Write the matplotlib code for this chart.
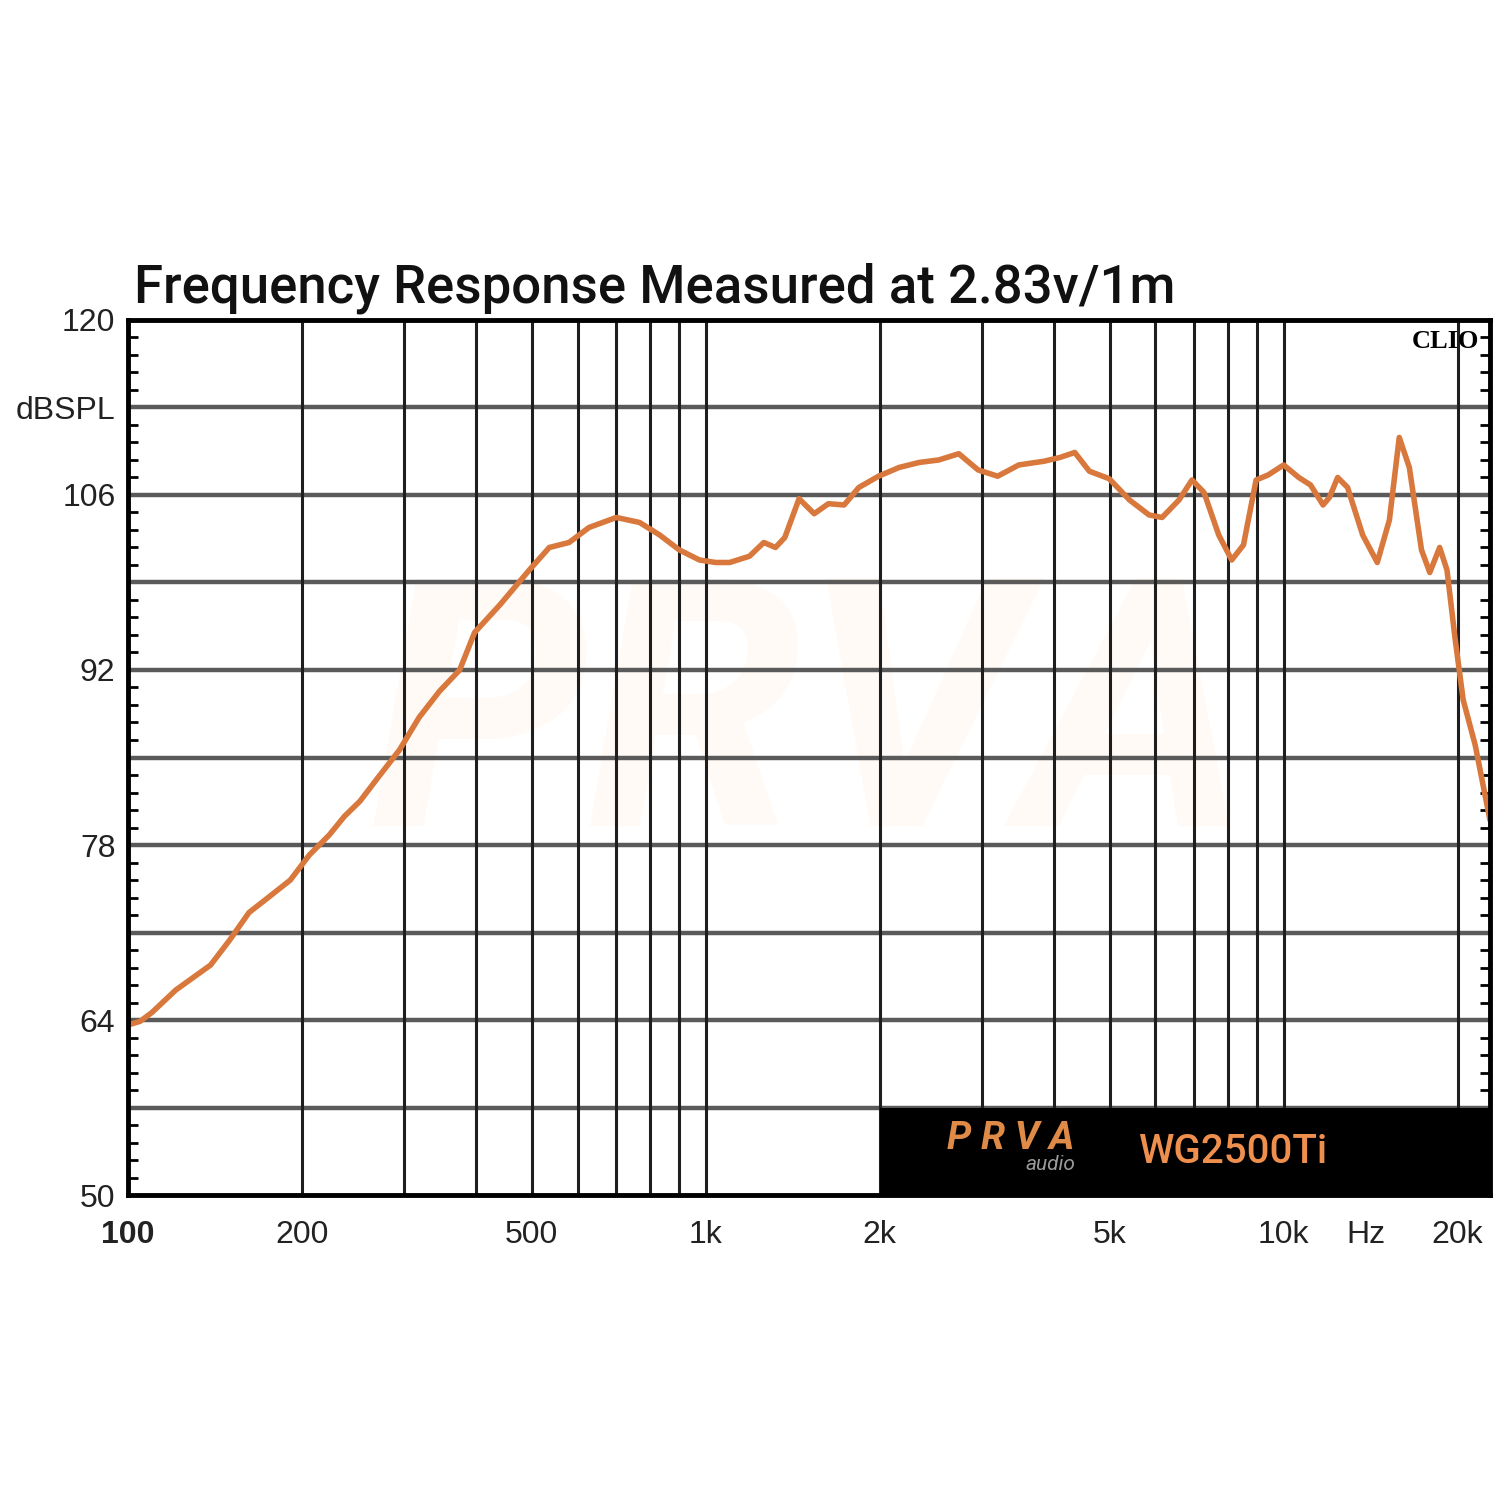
import matplotlib
matplotlib.use("Agg")
import matplotlib.pyplot as plt
from matplotlib.patches import Rectangle
from matplotlib.ticker import FixedLocator, NullFormatter

# frequency response (Hz, dB SPL)
freq_hz = [100, 105, 110, 121, 139, 150, 162, 176, 191, 206, 223, 237, 252, 273,
           295, 319, 346, 375, 398, 440, 495, 536, 580, 628, 700, 768, 832, 900,
           975, 1040, 1100, 1190, 1260, 1320, 1370, 1450, 1540, 1630, 1735, 1840,
           1990, 2160, 2340, 2530, 2740, 2960, 3200, 3480, 3850, 4100, 4350, 4610,
           4990, 5410, 5850, 6160, 6590, 6940, 7280, 7720, 8130, 8520, 8960, 9400,
           10000, 10620, 11130, 11700, 12000, 12400, 12900, 13700, 14520, 15240,
           15850, 16500, 17320, 17900, 18620, 19170, 19800, 20450, 21450, 22750]
spl_db = [63.6, 63.9, 64.6, 66.4, 68.4, 70.4, 72.6, 73.9, 75.2, 77.2, 78.8, 80.3,
          81.5, 83.6, 85.6, 88.2, 90.3, 92.0, 95.0, 97.2, 100.0, 101.8, 102.2,
          103.4, 104.2, 103.8, 102.8, 101.6, 100.8, 100.6, 100.6, 101.1, 102.2,
          101.8, 102.6, 105.7, 104.5, 105.3, 105.2, 106.6, 107.5, 108.2, 108.6,
          108.8, 109.3, 108.0, 107.5, 108.4, 108.7, 109.0, 109.4, 107.9, 107.3,
          105.6, 104.4, 104.2, 105.6, 107.2, 106.2, 102.8, 100.8, 102.0, 107.2,
          107.6, 108.4, 107.4, 106.8, 105.2, 105.8, 107.4, 106.6, 102.8, 100.6,
          104.0, 110.6, 108.2, 101.6, 99.8, 101.8, 100.0, 94.5, 89.6, 86.0, 80.0]

grid_freqs = [200, 300, 400, 500, 600, 700, 800, 900, 1000, 2000, 3000, 4000,
              5000, 6000, 7000, 8000, 9000, 10000, 20000]
y_ticks = [50, 57, 64, 71, 78, 85, 92, 99, 106, 113, 120]
y_labels = ["50", "", "64", "", "78", "", "92", "", "106", "dBSPL", "120"]
x_ticks = [100, 200, 500, 1000, 2000, 5000, 10000, 13900, 20000]
x_labels = ["100", "200", "500", "1k", "2k", "5k", "10k", "Hz", "20k"]

fig = plt.figure(figsize=(15, 15), dpi=100)
ax = fig.add_axes([0.0853, 0.2033, 0.908, 0.5834])
ax.set_xscale("log")
ax.set_xlim(100, 22750)
ax.set_ylim(50, 120)

for y in y_ticks[1:-1]:
    ax.axhline(y, color="#5a5a5a", lw=3.2, zorder=1)
for f in grid_freqs:
    ax.axvline(f, color="#1e1e1e", lw=2.2, zorder=1)

# faint watermark
ax.text(0.5, 0.53, "PRVA", transform=ax.transAxes, ha="center", va="center",
        fontsize=250, fontstyle="italic", fontweight="bold", color="#fffaf5",
        family="Roboto", zorder=0)

ax.plot(freq_hz, spl_db, color="#d9783c", lw=4, zorder=3,
        solid_joinstyle="round", solid_capstyle="round")

ax.add_patch(Rectangle((2000, 50), 22750 - 2000, 7, facecolor="black",
                       edgecolor="none", zorder=4))

ax.set_yticks(y_ticks)
ax.set_yticklabels(y_labels)
ax.yaxis.set_minor_locator(FixedLocator([50 + 1.4 * i for i in range(51)]))
ax.yaxis.set_minor_formatter(NullFormatter())
ax.tick_params(axis="y", which="major", length=0, pad=9, labelsize=23,
               labelcolor="#222222")
ax.tick_params(axis="y", which="minor", direction="in", length=7, width=2,
               left=True, right=True, color="black")
ax.set_xticks(x_ticks)
ax.set_xticklabels(x_labels)
ax.xaxis.set_minor_locator(FixedLocator([]))
ax.tick_params(axis="x", which="major", length=0, pad=18, labelsize=23,
               labelcolor="#222222")
for lab in ax.get_xticklabels() + ax.get_yticklabels():
    lab.set_family("Liberation Sans")
ax.get_xticklabels()[0].set_fontweight("bold")

for s in ax.spines.values():
    s.set_linewidth(3.5)
    s.set_color("black")
    s.set_zorder(5)

ax.text(0.992, 0.988, "CLIO", transform=ax.transAxes, ha="right", va="top",
        fontsize=19, fontweight="bold", family="Liberation Serif", zorder=5)

fig.text(0.089, 0.7985, "Frequency Response Measured at 2.83v/1m", fontsize=38,
         family="Roboto", fontweight="medium", color="#111111", va="baseline")

fig.text(0.674, 0.241, "P R V A", fontsize=28, fontstyle="italic",
         fontweight="bold", color="#e08a48", ha="center", va="center",
         family="Roboto")
fig.text(0.700, 0.2235, "audio", fontsize=15, color="#9a9a9a", ha="center",
         va="center", family="Roboto", fontstyle="italic")
fig.text(0.822, 0.232, "WG2500Ti", fontsize=29, color="#ef8f4d",
         ha="center", va="center", family="Roboto", fontweight="medium")

fig.savefig("out.png", dpi=100, facecolor="white")
